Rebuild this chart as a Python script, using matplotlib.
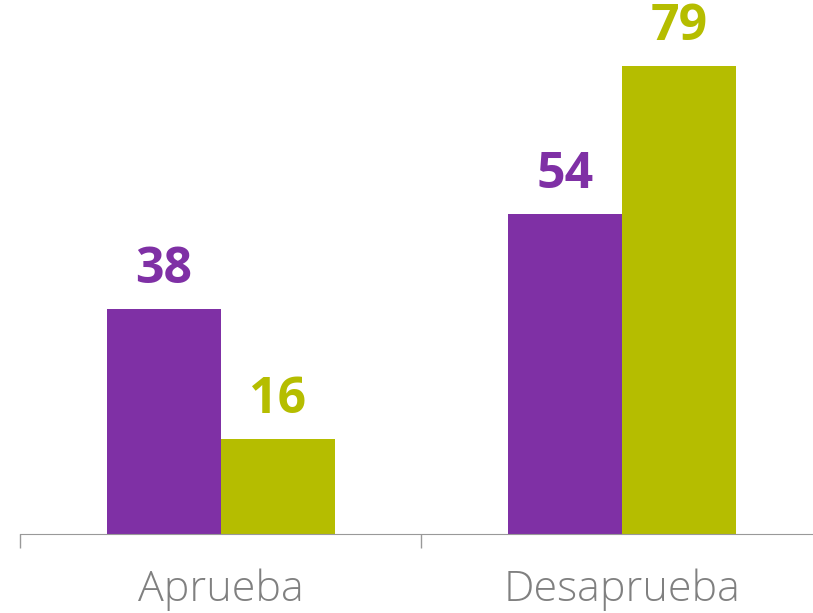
import matplotlib
matplotlib.use("Agg")
from matplotlib import pyplot as plt
import numpy as np

# ───────── DATA ───────── #
categories = ["Aprueba", "Desaprueba"]
series_a = [38, 54]   # purple
series_b = [16, 79]   # olive
# ──────────────────────── #

purple = "#7F30A5"
olive = "#B5BD00"

plt.rcParams["font.family"] = ["Open Sans", "DejaVu Sans"]

fig = plt.figure(figsize=(8.13, 6.13), dpi=100)
ax = fig.add_axes([20 / 813, 79 / 613, 802.5 / 813, 533 / 613])

x = np.arange(len(categories))
w = 0.284
bars_a = ax.bar(x - w / 2, series_a, width=w, color=purple)
bars_b = ax.bar(x + w / 2, series_b, width=w, color=olive)

for bars, vals, col in [(bars_a, series_a, purple), (bars_b, series_b, olive)]:
    for b, v in zip(bars, vals):
        ax.annotate(str(v), (b.get_x() + b.get_width() / 2, v),
                    xytext=(0, 10), textcoords="offset points",
                    ha="center", va="bottom", fontsize=36,
                    fontweight="bold", color=col)

ax.set_xlim(-0.5, 1.5)
ax.set_ylim(0, 90)
ax.set_xticks([-0.5, 0.5, 1.5])
ax.set_xticklabels([])
ax.set_xticks(x, minor=True)
ax.set_xticklabels(categories, minor=True)
ax.tick_params(axis="x", which="major", length=10, color="#999999", width=1)
ax.tick_params(axis="x", which="minor", length=0, pad=25,
               labelsize=31, labelcolor="#808080")
for lbl in ax.get_xticklabels(minor=True):
    lbl.set_fontweight("light")
ax.set_yticks([])
for s in ["top", "right", "left"]:
    ax.spines[s].set_visible(False)
ax.spines["bottom"].set_color("#999999")

fig.savefig("out.png", dpi=100)
